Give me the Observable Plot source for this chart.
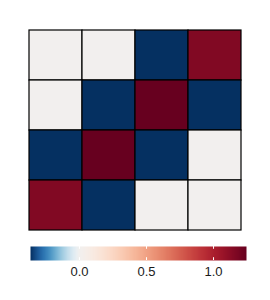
<!DOCTYPE html>
<html><head><meta charset="utf-8">
<script src="https://cdn.jsdelivr.net/npm/d3@7"></script>
<script src="https://cdn.jsdelivr.net/npm/@observablehq/plot@0.6"></script>
<style>body{margin:0;background:#fff;font-family:"Liberation Sans",Arial,sans-serif}#c svg{display:block}</style>
</head><body><div id="c"></div>
<script>
const rows = ["r1","r2","r3","r4"];
const cols = ["c1","c2","c3","c4"];
const values = [
  [0.0, 0.0, -0.366, 1.16],
  [0.0, -0.366, 1.246, -0.366],
  [-0.366, 1.246, -0.366, 0.0],
  [1.16, -0.366, 0.0, 0.0]
];
const legendTicks = [0, 0.5, 1.0];
const colorDomain = [-0.366, 1.246];

const cells = [];
rows.forEach((r, i) => cols.forEach((c, j) => cells.push({row: r, col: c, value: values[i][j]})));
const color = {type: "diverging", scheme: "RdBu", reverse: true, pivot: 0, symmetric: false, domain: colorDomain};

const main = Plot.plot({
  width: 270, height: 240,
  marginLeft: 28, marginRight: 28, marginTop: 28, marginBottom: 9,
  x: {domain: cols, padding: 0, axis: null},
  y: {domain: rows, padding: 0, axis: null},
  color,
  marks: [Plot.cell(cells, {x: "col", y: "row", fill: "value", stroke: "black", strokeWidth: 1.2, inset: 0})]
});

const legend = Plot.plot({
  width: 270, height: 45,
  marginLeft: 30, marginRight: 24, marginTop: 6, marginBottom: 25,
  style: {fontSize: "13px", fontFamily: "Liberation Sans, Arial, sans-serif", color: "#1a1a1a"},
  x: {domain: colorDomain, ticks: legendTicks, tickFormat: d3.format(".1f"), tickSize: 0, tickPadding: 6, label: null},
  y: {domain: [0, 1], axis: null},
  color,
  marks: [
    Plot.raster({x1: colorDomain[0], x2: colorDomain[1], y1: 0, y2: 1, width: 400, height: 1, fill: (x, y) => x, imageRendering: "auto"}),
    Plot.ruleX(legendTicks, {y1: 0, y2: 0.2, stroke: "white", strokeWidth: 1}),
    Plot.ruleX(legendTicks, {y1: 0.8, y2: 1, stroke: "white", strokeWidth: 1})
  ]
});
const c = document.getElementById("c");
c.append(main, legend);
</script></body></html>
